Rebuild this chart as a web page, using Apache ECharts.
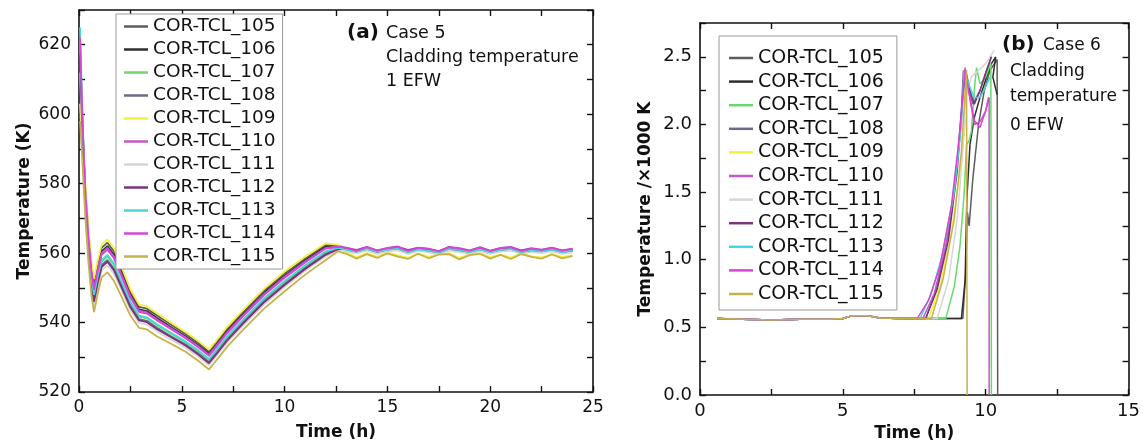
<!DOCTYPE html>
<html><head><meta charset="utf-8">
<script src="https://cdn.jsdelivr.net/npm/echarts@6/dist/echarts.min.js"></script>
<style>html,body{margin:0;padding:0;background:#fff}#c{width:1143px;height:448px}</style>
</head><body><div id="c"></div>
<script>
// ---------- shared ----------
const seriesNames = ['COR-TCL_105','COR-TCL_106','COR-TCL_107','COR-TCL_108','COR-TCL_109','COR-TCL_110','COR-TCL_111','COR-TCL_112','COR-TCL_113','COR-TCL_114','COR-TCL_115'];

// ---------- (a) Case 5, 1 EFW : time (h) and temperature (K) ----------
const timeA = [0.05,0.15,0.3,0.45,0.6,0.73,0.9,1.1,1.38,1.7,2.1,2.5,2.92,3.3,3.8,4.5,5.2,5.8,6.32,6.6,7.2,8.0,9.0,10.0,11.0,12.0,12.6,13,13.5,14,14.5,15,15.5,16,16.5,17,17.5,18,18.5,19,19.5,20,20.5,21,21.5,22,22.5,23,23.5,24];
const a105 = [618,598,579.5,566.5,556.5,551.5,556.5,561.5,563,560.5,554.7,548.8,544.5,544,542,539.3,536.6,534.1,531.6,533.6,538.1,543.1,549.1,554.1,558.4,562.3,562.2,561.3,560.6,561.5,560.7,561.2,561.6,560.5,561.3,561,560.4,561.5,561.2,560.6,561.4,560.5,561.2,561.5,560.5,561.1,560.8,561.3,560.5,561];
const a106 = [616,597,578.5,565.5,555.5,550.5,555.5,560.5,562,559.5,553.8,548,543.8,543.3,541.3,538.6,536,533.5,531,533,537.5,542.5,548.5,553.5,557.9,561.8,562,561.1,560.4,561.3,560.3,561.2,561.4,560.6,561.1,560.7,560.2,561.3,561,560.3,561.2,560.4,561,561.3,560.4,561,560.6,561.1,560.3,560.9];
const a107 = [621,600,575.5,562.5,552.5,547.5,552.5,557.5,559,556.5,551.1,545.6,541.7,541.2,539.2,536.7,534.2,531.7,529.2,531.2,535.7,540.7,546.7,551.7,556.2,560.3,561.4,560.8,560.1,561,560.2,560.7,561.1,560,560.9,560.5,560.1,561,560.6,560,560.9,560.2,560.7,561,560.1,560.6,560.3,560.8,560.1,560.6];
const a108 = [615,596,574.5,561.5,551.5,546.5,551.5,556.5,558,555.5,550.2,544.8,541,540.5,538.5,536,533.6,531.1,528.6,530.6,535.1,540.1,546.1,551.1,555.7,559.8,561.2,560.9,560.3,561.1,560.1,560.9,561.2,560.2,561,560.6,560,561.1,560.8,560.2,561,560.1,560.8,561.1,560.2,560.8,560.4,560.9,560.2,560.7];
const a109 = [603,590,580.5,567.5,557.5,552.5,557.5,562.5,564,561.5,555.6,549.6,545.2,544.7,542.7,539.9,537.2,534.7,532.2,534.2,538.7,543.7,549.7,554.7,559,562.8,562.4,560.2,558.8,560,559,560.1,559.4,558.6,559.9,558.9,559.8,560,558.6,559.7,560,558.8,559.6,558.7,559.9,559.1,558.7,559.8,558.9,559.4];
const a110 = [620,601,578,565,555,550,555,560,561.5,559,553.3,547.6,543.4,542.9,540.9,538.3,535.7,533.2,530.7,532.7,537.2,542.2,548.2,553.2,557.6,561.5,561.9,561.6,560.9,561.8,560.8,561.5,561.9,560.9,561.6,561.3,560.6,561.8,561.4,560.8,561.7,560.7,561.5,561.8,560.8,561.4,561,561.6,560.8,561.3];
const a111 = [612,595,573,560,550,545,550,555,556.5,554,548.8,543.6,539.9,539.4,537.4,535,532.7,530.2,527.7,529.7,534.2,539.2,545.2,550.2,554.9,559,560.9,560.5,559.9,560.7,559.8,560.5,560.8,559.7,560.6,560.2,559.6,560.7,560.3,559.8,560.6,559.8,560.4,560.7,559.8,560.3,560,560.5,559.8,560.2];
const a112 = [617,598,574,561,551,546,551,556,557.5,555,549.7,544.4,540.6,540.1,538.1,535.7,533.3,530.8,528.3,530.3,534.8,539.8,545.8,550.8,555.4,559.5,561.1,561.4,560.7,561.6,560.6,561.3,561.7,560.7,561.4,561.1,560.5,561.6,561.2,560.6,561.5,560.6,561.3,561.6,560.7,561.2,560.8,561.4,560.6,561.1];
const a113 = [625,603,576,563,553,548,553,558,559.5,557,551.5,546,542,541.5,539.5,537,534.5,532,529.5,531.5,536,541,547,552,556.5,560.5,561.5,561,560.4,561.2,560.4,561,561.3,560.3,561,560.7,560.2,561.2,560.9,560.3,561.1,560.3,560.9,561.2,560.3,560.9,560.5,561,560.3,560.8];
const a114 = [622,602,577.5,564.5,554.5,549.5,554.5,559.5,561,558.5,552.9,547.2,543.1,542.6,540.6,538,535.4,532.9,530.4,532.4,536.9,541.9,547.9,552.9,557.3,561.3,561.8,561.5,560.6,561.7,560.7,561.4,561.8,560.6,561.5,561.2,560.5,561.7,561.3,560.7,561.6,560.6,561.4,561.7,560.6,561.3,560.9,561.5,560.7,561.2];
const a115 = [598,588,571,558,548,543,548,553,554.5,552,547,542,538.5,538,536,533.8,531.5,529,526.5,528.5,533,538,544,549,553.8,558,560.5,559.8,558.4,559.7,558.6,559.9,559,558.3,559.8,558.5,559.6,559.7,558.2,559.4,559.8,558.4,559.5,558.3,559.7,558.9,558.4,559.6,558.5,559.1];

// ---------- (b) Case 6, 0 EFW : [time (h), temperature (x1000 K)] ----------
const baseB = [[0.6,0.565],[1.5,0.56],[2.5,0.555],[3.5,0.56],[4.5,0.56],[5.0,0.565],[5.3,0.585],[5.9,0.585],[6.3,0.57],[7.0,0.565],[7.5,0.565]];
const b105 = [[9.2,0.565],[9.3,0.9],[9.36,1.35],[9.42,1.25],[9.55,1.6],[9.75,2.0],[9.95,2.25],[10.15,2.4],[10.4,2.48],[10.42,0]];
const b106 = [[9.15,0.565],[9.28,0.85],[9.34,1.45],[9.45,1.85],[9.6,2.05],[9.8,2.2],[10.0,2.33],[10.2,2.45],[10.35,2.5],[10.25,2.35],[10.4,2.22]];
const b107 = [[8.6,0.565],[8.9,0.8],[9.1,1.1],[9.25,1.5],[9.33,1.85],[9.42,1.88],[9.5,1.95],[9.62,2.3],[9.68,2.42],[9.8,2.3],[10.0,2.35],[10.18,2.45],[10.2,0]];
const b108 = [[7.9,0.565],[8.3,0.8],[8.7,1.2],[9.0,1.7],[9.15,2.1],[9.22,2.4],[9.35,2.3],[9.55,2.15],[9.8,2.25],[10.0,2.38],[10.2,2.5]];
const b109 = [[8.0,0.565],[8.4,0.8],[8.8,1.2],[9.1,1.65],[9.28,2.0],[9.33,2.05]];
const b110 = [[7.8,0.565],[8.2,0.75],[8.6,1.1],[8.95,1.6],[9.15,2.1],[9.25,2.4],[9.4,2.25],[9.6,2.0],[9.8,2.02],[10.0,2.1],[10.12,2.2],[10.12,0]];
const b111 = [[8.3,0.565],[8.7,0.85],[9.0,1.3],[9.2,1.8],[9.3,2.2],[9.5,2.35],[10.0,2.45],[10.3,2.55]];
const b112 = [[7.9,0.565],[8.3,0.78],[8.7,1.15],[9.0,1.65],[9.2,2.2],[9.3,2.4],[9.45,2.25],[9.6,2.15],[9.8,2.25],[10.0,2.38],[10.2,2.5]];
const b113 = [[7.7,0.565],[8.1,0.75],[8.5,1.05],[8.9,1.5],[9.15,2.0],[9.25,2.4],[9.4,2.3],[9.6,2.2],[9.8,2.2],[10.0,2.28],[10.15,2.35]];
const b114 = [[7.6,0.565],[8.0,0.7],[8.4,0.95],[8.8,1.4],[9.1,1.95],[9.28,2.42],[9.4,2.25],[9.6,2.03],[9.8,1.98],[10.0,2.1],[10.1,2.2]];
const b115 = [[8.1,0.565],[8.5,0.85],[8.9,1.3],[9.15,1.8],[9.3,2.3],[9.33,2.4],[9.35,0]];

// ---------- styling ----------
const colors = ['#5c5c5c','#2e2e2e','#6ad86e','#6a6a8c','#f2f23c','#c458c4','#d6d6d6','#7a347a','#46d8d8','#d844d8','#c8b04a'];
const seriesA = [a105,a106,a107,a108,a109,a110,a111,a112,a113,a114,a115];
const seriesB = [b105,b106,b107,b108,b109,b110,b111,b112,b113,b114,b115];

const FONT = 'DejaVu Sans';
const chart = echarts.init(document.getElementById('c'), null, {renderer:'canvas'});

function xAx(grid, max, pos, showLabel, name, labelSize, nameGap) {
  return {
    type:'value', gridIndex:grid, min:0, max:max, interval:2.5, position:pos,
    axisLine:{show:true, onZero:false, lineStyle:{color:'#111', width:1.6}},
    axisTick:{show:true, inside:true, length:6, lineStyle:{color:'#111', width:1.4}},
    axisLabel:{show:showLabel, margin:7, color:'#111', fontFamily:FONT, fontSize:labelSize,
      formatter: v => (Math.abs(v/5 - Math.round(v/5)) < 1e-6 ? String(v) : '')},
    splitLine:{show:false},
    name: name, nameLocation:'middle', nameGap:nameGap,
    nameTextStyle:{color:'#111', fontFamily:FONT, fontWeight:'bold', fontSize:17}
  };
}
function yAx(grid, min, max, interval, labelEvery, pos, showLabel, name, labelSize, nameGap, dec) {
  return {
    type:'value', gridIndex:grid, min:min, max:max, interval:interval, position:pos,
    axisLine:{show:true, onZero:false, lineStyle:{color:'#111', width:1.6}},
    axisTick:{show:true, inside:true, length:6, lineStyle:{color:'#111', width:1.4}},
    axisLabel:{show:showLabel, margin:8, color:'#111', fontFamily:FONT, fontSize:labelSize,
      formatter: v => (Math.abs((v-min)/labelEvery - Math.round((v-min)/labelEvery)) < 1e-6 && v < max - 1e-6 ? v.toFixed(dec) : '')},
    splitLine:{show:false},
    name: name, nameLocation:'middle', nameGap:nameGap,
    nameTextStyle:{color:'#111', fontFamily:FONT, fontWeight:'bold', fontSize:17}
  };
}

const series = [];
seriesNames.forEach((n, i) => {
  series.push({
    name:n, type:'line', xAxisIndex:0, yAxisIndex:0, symbol:'none', silent:true, animation:false,
    lineStyle:{color:colors[i], width:1.8}, itemStyle:{color:colors[i]},
    data: timeA.map((t, k) => [t, seriesA[i][k]])
  });
  series.push({
    name:n, type:'line', xAxisIndex:2, yAxisIndex:2, symbol:'none', silent:true, animation:false,
    lineStyle:{color:colors[i], width:1.5}, itemStyle:{color:colors[i]},
    data: baseB.concat(seriesB[i])
  });
});

const legendCommon = {
  orient:'vertical', data:seriesNames, icon:'rect', itemWidth:24, itemHeight:2.5,
  itemTextGap:6, backgroundColor:'#fff', borderColor:'#9a9a9a', borderWidth:1,
  borderRadius:0, selectedMode:false
};

function txt(x, y, s, size, bold) {
  return {type:'text', left:x, top:y, style:{text:s, fill:'#111', font:(bold?'bold ':'') + size + 'px "' + FONT + '"'}};
}

chart.setOption({
  backgroundColor:'#fff',
  animation:false,
  grid:[
    {left:79, top:10, width:514, height:382, containLabel:false},
    {left:700, top:23, width:430, height:372, containLabel:false}
  ],
  xAxis:[
    xAx(0, 25, 'bottom', true, 'Time (h)', 17, 32),
    xAx(0, 25, 'top', false, '', 17, 32),
    xAx(1, 15, 'bottom', true, 'Time (h)', 18, 23),
    xAx(1, 15, 'top', false, '', 18, 23)
  ],
  yAxis:[
    yAx(0, 520, 630, 10, 20, 'left', true, 'Temperature (K)', 17, 46, 0),
    yAx(0, 520, 630, 10, 20, 'right', false, '', 17, 46, 0),
    yAx(1, 0, 2.75, 0.25, 0.5, 'left', true, 'Temperature /\u00d71000 K', 18, 46, 1),
    yAx(1, 0, 2.75, 0.25, 0.5, 'right', false, '', 18, 46, 1)
  ],
  legend:[
    Object.assign({}, legendCommon, {left:116, top:14, itemGap:2, padding:[2,7,2,8],
      textStyle:{color:'#111', fontFamily:FONT, fontSize:18.5, lineHeight:21}}),
    Object.assign({}, legendCommon, {left:719, top:36, itemGap:1.6, padding:[11,13,5,10],
      textStyle:{color:'#111', fontFamily:FONT, fontSize:19, lineHeight:22}})
  ],
  graphic:[
    txt(347, 23, '(a)', 20, true),
    txt(386, 24, 'Case 5', 17.5, false),
    txt(386, 48, 'Cladding temperature', 17.5, false),
    txt(386, 72, '1 EFW', 17.5, false),
    txt(1002, 35, '(b)', 20, true),
    txt(1043, 37, 'Case 6', 17, false),
    txt(1010, 63, 'Cladding', 17, false),
    txt(1010, 88, 'temperature', 17, false),
    txt(1010, 117, '0 EFW', 17, false)
  ],
  series: series
});
</script>
</body></html>
